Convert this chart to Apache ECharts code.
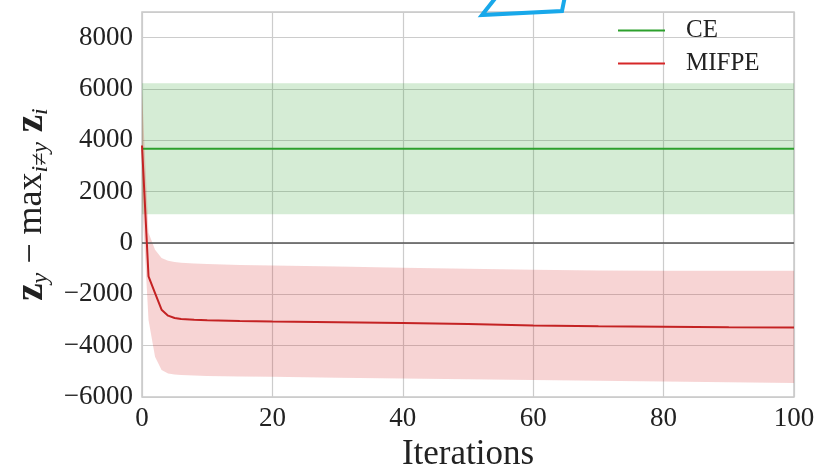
<!DOCTYPE html>
<html>
<head>
<meta charset="utf-8">
<script src="https://cdn.jsdelivr.net/npm/echarts@6/dist/echarts.min.js"></script>
<style>
  html, body { margin: 0; padding: 0; background: #ffffff; }
  #chart { width: 823px; height: 468px; }
</style>
</head>
<body>
<div id="chart"></div>
<script>
// Iterations at which the margin statistics were recorded
const iterations = [0, 1, 2, 3, 4, 5, 6, 8, 10, 15, 20, 30, 40, 50, 60, 70, 80, 90, 100];

// MIFPE: mean margin and the +/- one std band
const mifpeMean  = [3800, -1300, -1950, -2600, -2830, -2920, -2960, -2990, -3010, -3040, -3060, -3090, -3120, -3160, -3210, -3240, -3260, -3280, -3290];
const mifpeUpper = [5900,   400,  -260,  -580,  -690,  -740,  -770,  -800,  -820,  -860,  -880,  -920,  -960, -1000, -1040, -1070, -1080, -1080, -1080];
const mifpeLower = [1700, -3000, -4430, -4950, -5080, -5120, -5140, -5160, -5180, -5200, -5210, -5250, -5280, -5310, -5340, -5370, -5400, -5430, -5450];

// CE: margin stays constant over the iterations
const ceIterations = [0, 100];
const ceMean  = [3670, 3670];
const ceUpper = [6220, 6220];
const ceLower = [1120, 1120];

// Axis ranges and tick spacing
const xRange = [0, 100];
const xStep = 20;
const yRange = [-6000, 9000];
const yStep = 2000;

const serif = 'Liberation Serif';
const GREEN = '#2ca02c';
const RED = '#d62728';

const fmtNum = v => (v < 0 ? '\u2212' + Math.abs(v) : String(v));

// Shaded band drawn as one polygon through the axis scales
function bandSeries(name, xs, lo, hi, fill, z) {
  const data = xs.map((x, i) => [x, lo[i], hi[i]]);
  return {
    type: 'custom',
    name: name,
    data: data,
    z: z,
    silent: true,
    encode: { x: 0, y: [1, 2] },
    renderItem: function (params, api) {
      if (params.dataIndex !== 0) return null;
      const top = data.map(d => api.coord([d[0], d[2]]));
      const bottom = data.map(d => api.coord([d[0], d[1]])).reverse();
      return {
        type: 'polygon',
        shape: { points: top.concat(bottom) },
        style: { fill: fill }
      };
    }
  };
}

const chart = echarts.init(document.getElementById('chart'), null, { renderer: 'canvas' });

chart.setOption({
  backgroundColor: '#ffffff',
  animation: false,
  grid: {
    left: 142, right: 29, top: 12, bottom: 71,
    outerBoundsMode: 'none',
    containLabel: false,
    show: true, borderColor: '#c8c8c8', borderWidth: 1.5, backgroundColor: 'transparent'
  },
  legend: {
    orient: 'vertical',
    left: 618, top: 18,
    padding: 0,
    itemGap: 8,
    itemWidth: 47, itemHeight: 2,
    icon: 'rect',
    data: ['CE', 'MIFPE'],
    textStyle: { fontFamily: serif, fontSize: 25, color: '#222222', padding: [0, 0, 0, 16] }
  },
  xAxis: {
    type: 'value',
    min: xRange[0], max: xRange[1], interval: xStep,
    name: 'Iterations',
    nameLocation: 'middle',
    nameGap: 36,
    nameTextStyle: { fontFamily: serif, fontSize: 35, color: '#222222' },
    axisLine: { show: false },
    axisTick: { show: false },
    axisLabel: { fontFamily: serif, fontSize: 27, color: '#222222', margin: 8, formatter: fmtNum },
    splitLine: { show: true, lineStyle: { color: '#cccccc', width: 1.2 } }
  },
  yAxis: {
    type: 'value',
    min: yRange[0], max: yRange[1], interval: yStep,
    name: '{bz|z}{sb|y}{tx| \u2212 max}{sb|i\u2260y}{bz| z}{sb|i}',
    nameLocation: 'middle',
    nameRotate: 90,
    nameGap: 89,
    nameTextStyle: {
      color: '#222222',
      rich: {
        bz: { fontFamily: serif, fontWeight: 'bold', fontSize: 39, lineHeight: 42, color: '#222222' },
        tx: { fontFamily: serif, fontSize: 36, lineHeight: 42, color: '#222222' },
        sb: { fontFamily: serif, fontStyle: 'italic', fontSize: 24, lineHeight: 25, verticalAlign: 'bottom', color: '#222222' }
      }
    },
    axisLine: { show: false },
    axisTick: { show: false },
    axisLabel: { fontFamily: serif, fontSize: 27, color: '#222222', margin: 9, showMaxLabel: false, formatter: fmtNum },
    splitLine: { show: true, lineStyle: { color: '#cccccc', width: 1.2 } }
  },
  series: [
    bandSeries('CE band', ceIterations, ceLower, ceUpper, 'rgba(44,160,44,0.2)', 1),
    bandSeries('MIFPE band', iterations, mifpeLower, mifpeUpper, 'rgba(214,39,40,0.2)', 2),
    {
      type: 'line', name: 'CE', color: GREEN, z: 4,
      data: ceIterations.map((x, i) => [x, ceMean[i]]),
      symbol: 'none', lineStyle: { color: GREEN, width: 2 }
    },
    {
      type: 'line', name: 'MIFPE', color: RED, z: 5,
      data: iterations.map((x, i) => [x, mifpeMean[i]]),
      symbol: 'none', lineStyle: { color: '#c42223', width: 2 },
      markLine: {
        silent: true, symbol: 'none', label: { show: false },
        lineStyle: { color: '#555555', width: 1.6, type: 'solid' },
        data: [{ yAxis: 0 }]
      }
    }
  ],
  graphic: [{
    type: 'polyline',
    z: 100,
    shape: { points: [[497, -4], [482, 15], [562, 11], [565, -4]] },
    style: { stroke: '#18a8ea', lineWidth: 4, fill: null, lineJoin: 'miter' }
  }]
});
</script>
</body>
</html>
